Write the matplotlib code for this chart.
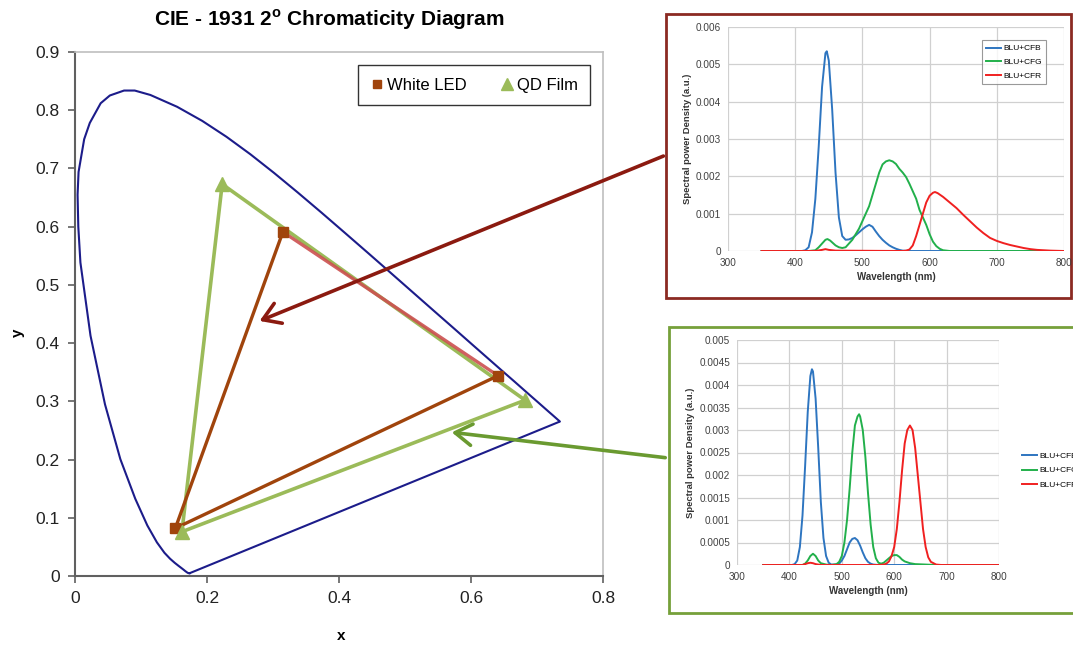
import matplotlib
matplotlib.use("Agg")
import matplotlib.pyplot as plt
from matplotlib.patches import Rectangle, FancyArrowPatch

plt.rcParams['font.family'] = ['Liberation Sans', 'DejaVu Sans']
plt.rcParams['mathtext.fontset'] = 'custom'
plt.rcParams['mathtext.rm'] = 'Liberation Sans:bold'
plt.rcParams['mathtext.bf'] = 'Liberation Sans:bold'

# ---- CIE 1931 spectral locus (380..700 nm), closed by the purple line
locus_x = [0.1741, 0.1740, 0.1738, 0.1736, 0.1733, 0.1730, 0.1726, 0.1721, 0.1714, 0.1703,
           0.1689, 0.1669, 0.1644, 0.1611, 0.1566, 0.1510, 0.1440, 0.1355, 0.1241, 0.1096,
           0.0913, 0.0687, 0.0454, 0.0235, 0.0082, 0.0050, 0.0039, 0.0054, 0.0139, 0.0224,
           0.0389, 0.0528, 0.0743, 0.0905, 0.1142,
           0.1547, 0.1929, 0.2296, 0.2658, 0.3016, 0.3373, 0.3731, 0.4087, 0.4441, 0.4788,
           0.5125, 0.5448, 0.5752, 0.6029, 0.6270, 0.6482, 0.6658, 0.6801, 0.6915, 0.7006,
           0.7079, 0.7140, 0.7190, 0.7230, 0.7260, 0.7283, 0.7300, 0.7311, 0.7320, 0.7334,
           0.7347, 0.1741]
locus_y = [0.0050, 0.0050, 0.0049, 0.0049, 0.0048, 0.0048, 0.0048, 0.0048, 0.0051, 0.0058,
           0.0069, 0.0086, 0.0109, 0.0138, 0.0177, 0.0227, 0.0297, 0.0399, 0.0578, 0.0868,
           0.1327, 0.2007, 0.2950, 0.4127, 0.5384, 0.6000, 0.6548, 0.6940, 0.7502, 0.7781,
           0.8120, 0.8253, 0.8338, 0.8338, 0.8262,
           0.8059, 0.7816, 0.7543, 0.7243, 0.6923, 0.6589, 0.6245, 0.5896, 0.5547, 0.5202,
           0.4866, 0.4544, 0.4242, 0.3965, 0.3725, 0.3514, 0.3340, 0.3197, 0.3083, 0.2993,
           0.2920, 0.2859, 0.2809, 0.2770, 0.2740, 0.2717, 0.2700, 0.2689, 0.2680, 0.2666,
           0.2653, 0.0050]

# ---- gamut triangles (R, G, B vertices)
led_x = [0.641, 0.315, 0.152]
led_y = [0.344, 0.591, 0.082]
qd_x = [0.682, 0.223, 0.162]
qd_y = [0.302, 0.673, 0.076]

# ---- top inset: white LED backlight through colour filters
wl_b1 = [350, 400, 410, 415, 420, 425, 430, 435, 440, 445, 447, 450, 455, 460, 465, 470, 475,
         480, 485, 490, 495, 500, 505, 510, 515, 520, 525, 530, 535, 540, 545, 550, 555, 560,
         570, 800]
sp_b1 = [0, 0, 0, 0.00002, 0.0001, 0.0005, 0.0014, 0.0028, 0.0044, 0.0053, 0.00535, 0.0051,
         0.0038, 0.0021, 0.0009, 0.0004, 0.0003, 0.00031, 0.00035, 0.00042, 0.0005, 0.00058,
         0.00065, 0.0007, 0.00065, 0.00052, 0.0004, 0.0003, 0.00022, 0.00015, 0.0001, 0.00006,
         0.00003, 0.00001, 0, 0]
wl_g1 = [350, 420, 430, 435, 440, 445, 448, 452, 460, 465, 470, 475, 480, 485, 490, 495, 500,
         505, 510, 515, 520, 525, 530, 535, 540, 545, 550, 555, 560, 565, 570, 575, 580, 585,
         590, 595, 600, 605, 610, 615, 620, 630, 800]
sp_g1 = [0, 0, 0.00002, 0.0001, 0.0002, 0.0003, 0.00032, 0.00028, 0.00015, 0.0001, 0.00008,
         0.0001, 0.0002, 0.0003, 0.00045, 0.0006, 0.0008, 0.001, 0.0012, 0.0015, 0.0018, 0.0021,
         0.00232, 0.0024, 0.00243, 0.0024, 0.00233, 0.0022, 0.0021, 0.00198, 0.0018, 0.0016,
         0.0014, 0.0011, 0.0009, 0.0007, 0.00045, 0.00025, 0.00013, 0.00006, 0.00002, 0, 0]
wl_r1 = [350, 430, 440, 445, 450, 460, 560, 565, 570, 575, 580, 585, 590, 595, 600, 605, 608,
         612, 620, 630, 640, 650, 660, 670, 680, 690, 700, 710, 720, 730, 740, 750, 760, 770,
         780, 800]
sp_r1 = [0, 0, 0.00003, 0.00005, 0.00003, 0.00001, 0, 0.00001, 0.00004, 0.00015, 0.0004,
         0.0007, 0.001, 0.0013, 0.00148, 0.00156, 0.00158, 0.00155, 0.00145, 0.0013, 0.00115,
         0.00097, 0.0008, 0.00063, 0.00048, 0.00035, 0.00027, 0.00021, 0.00016, 0.00012,
         0.00008, 0.00005, 0.00003, 0.00002, 0.00001, 0]

# ---- bottom inset: QD film backlight through colour filters
wl_b2 = [350, 405, 410, 415, 420, 425, 430, 435, 440, 443, 445, 450, 455, 460, 465, 470, 475,
         480, 490, 495, 500, 505, 510, 515, 520, 525, 530, 535, 540, 545, 550, 555, 560, 570, 800]
sp_b2 = [0, 0, 0.00002, 0.0001, 0.0004, 0.0011, 0.0022, 0.0034, 0.0042, 0.00435, 0.0043,
         0.0037, 0.0026, 0.0014, 0.0006, 0.0002, 0.00005, 0.00001, 0.00001, 0.00003, 0.0001,
         0.0002, 0.00035, 0.0005, 0.00058, 0.0006, 0.00055, 0.00043, 0.00028, 0.00015, 0.00007,
         0.00003, 0.00001, 0, 0]
wl_g2 = [350, 425, 430, 435, 440, 445, 450, 455, 460, 470, 480, 490, 495, 500, 505, 510, 515,
         520, 525, 530, 533, 535, 540, 545, 550, 555, 560, 565, 570, 575, 580, 585, 590, 595,
         600, 605, 610, 615, 620, 630, 640, 660, 680, 800]
sp_g2 = [0, 0, 0.00003, 0.0001, 0.0002, 0.00025, 0.0002, 0.0001, 0.00004, 0.00001, 0, 0.00002,
         0.00007, 0.0002, 0.0005, 0.001, 0.0017, 0.0025, 0.0031, 0.0033, 0.00335, 0.0033, 0.003,
         0.0024, 0.0016, 0.0009, 0.0004, 0.00015, 0.00005, 0.00003, 0.00005, 0.0001, 0.00015,
         0.0002, 0.00022, 0.00022, 0.00018, 0.00012, 0.00008, 0.00004, 0.00002, 0.00001, 0, 0]
wl_r2 = [350, 425, 430, 435, 440, 445, 450, 460, 570, 580, 585, 590, 595, 600, 605, 610, 615,
         620, 625, 630, 635, 640, 645, 650, 655, 660, 665, 670, 680, 690, 800]
sp_r2 = [0, 0, 0.00002, 0.00004, 0.00005, 0.00004, 0.00002, 0, 0, 0.00001, 0.00003, 0.00008,
         0.0002, 0.0004, 0.0008, 0.0014, 0.0021, 0.0027, 0.003, 0.0031, 0.003, 0.0026, 0.002,
         0.0014, 0.0008, 0.0004, 0.00017, 0.00007, 0.00001, 0, 0]

series_names = ['BLU+CFB', 'BLU+CFG', 'BLU+CFR']
spec_colors = ['#2e75c0', '#22b04b', '#f02020']

W, H = 1073, 646
fig = plt.figure(figsize=(W / 100, H / 100), dpi=100)


def fbox(l, t, r, b):
    # pixel box -> figure fraction [left, bottom, width, height]
    return [l / W, 1 - b / H, (r - l) / W, (b - t) / H]


# ================= main CIE chart =================
ax = fig.add_axes(fbox(75, 52, 603, 576))
led_c = '#a0440c'
qd_c = '#9bbb59'

ax.plot(locus_x, locus_y, color='#1c1c8a', lw=1.5, zorder=2)

ax.plot([qd_x[2], qd_x[1], qd_x[0], qd_x[2]], [qd_y[2], qd_y[1], qd_y[0], qd_y[2]],
        color=qd_c, lw=2.6, zorder=3)
ax.plot([led_x[2], led_x[1]], [led_y[2], led_y[1]], color=led_c, lw=2.4, zorder=4)
ax.plot([led_x[0], led_x[2]], [led_y[0], led_y[2]], color=led_c, lw=2.4, zorder=4)
ax.plot([led_x[1], led_x[0]], [led_y[1], led_y[0]], color='#cc5050', lw=2.4, alpha=0.9, zorder=4)
ax.plot(led_x, led_y, ls='none', marker='s', ms=7, color=led_c, zorder=5, label='White LED')
ax.plot(qd_x, qd_y, ls='none', marker='^', ms=10, color=qd_c, zorder=6, label='QD Film')

ax.set_xlim(0, 0.8)
ax.set_ylim(0, 0.9)
ax.set_xticks([0, 0.2, 0.4, 0.6, 0.8])
ax.set_xticklabels(['0', '0.2', '0.4', '0.6', '0.8'])
ax.set_yticks([0, 0.1, 0.2, 0.3, 0.4, 0.5, 0.6, 0.7, 0.8, 0.9])
ax.set_yticklabels(['0', '0.1', '0.2', '0.3', '0.4', '0.5', '0.6', '0.7', '0.8', '0.9'])
ax.tick_params(labelsize=12.5, direction='out', length=5, width=1.2, color='#606060',
               labelcolor='#222222', pad=6)
for s in ['left', 'bottom']:
    ax.spines[s].set_color('#606060')
    ax.spines[s].set_linewidth(1.5)
for s in ['top', 'right']:
    ax.spines[s].set_color('#bfbfbf')
    ax.spines[s].set_linewidth(1.2)

leg = ax.legend(loc='upper left', bbox_to_anchor=(0.536, 0.975), ncol=2, fontsize=12,
                frameon=True, fancybox=False, edgecolor='black', handlelength=0.8,
                handletextpad=0.2, columnspacing=2.0, borderpad=0.75, markerscale=0.8,
                borderaxespad=0)
leg.get_frame().set_linewidth(1.0)

fig.text(329 / W, 1 - 20 / H, r'CIE - 1931 2$^{\mathrm{o}}$ Chromaticity Diagram',
         ha='center', va='center', fontsize=15, fontweight='bold')
fig.text(341 / W, 1 - 636 / H, 'x', ha='center', va='center', fontsize=11, fontweight='bold')
fig.text(18 / W, 1 - 333 / H, 'y', ha='center', va='center', fontsize=11, fontweight='bold',
         rotation=90)

# ================= inset frames =================
fig.patches.append(Rectangle((666 / W, 1 - 298 / H), (1071 - 666) / W, (298 - 14) / H,
                             transform=fig.transFigure, facecolor='white',
                             edgecolor='#8b2a22', lw=2, zorder=-1))
fig.patches.append(Rectangle((669 / W, 1 - 613 / H), (1090 - 669) / W, (613 - 327) / H,
                             transform=fig.transFigure, facecolor='white',
                             edgecolor='#76a03a', lw=2, zorder=-1))


def style_inset(a, ymax, ystep, yticks_lbl):
    a.set_xlim(300, 800)
    a.set_ylim(0, ymax)
    a.set_xticks([300, 400, 500, 600, 700, 800])
    a.set_yticks([i * ystep for i in range(len(yticks_lbl))])
    a.set_yticklabels(yticks_lbl)
    a.grid(True, color='#d0d0d0', lw=0.9)
    a.set_axisbelow(True)
    for s in a.spines.values():
        s.set_visible(False)
    a.tick_params(length=0, labelsize=7.2, labelcolor='#404040', pad=5)
    a.set_xlabel('Wavelength (nm)', fontsize=7, fontweight='bold', color='#333333', labelpad=3)
    a.set_ylabel('Spectral power Density (a.u.)', fontsize=6.8, fontweight='bold',
                 color='#333333', labelpad=3)
    a.patch.set_alpha(0)


ax1 = fig.add_axes(fbox(728, 27, 1064, 251))
ax1.plot(wl_b1, sp_b1, color=spec_colors[0], lw=1.4, label=series_names[0])
ax1.plot(wl_g1, sp_g1, color=spec_colors[1], lw=1.4, label=series_names[1])
ax1.plot(wl_r1, sp_r1, color=spec_colors[2], lw=1.4, label=series_names[2])
style_inset(ax1, 0.006, 0.001, ['0', '0.001', '0.002', '0.003', '0.004', '0.005', '0.006'])
l1 = ax1.legend(loc='upper left', bbox_to_anchor=(0.755, 0.94), fontsize=6, frameon=True,
                fancybox=False, edgecolor='#808080', handlelength=1.8, handletextpad=0.3,
                labelspacing=0.7, borderpad=0.5, borderaxespad=0)
l1.get_frame().set_linewidth(0.8)

ax2 = fig.add_axes(fbox(737, 340, 999, 565))
ax2.plot(wl_b2, sp_b2, color=spec_colors[0], lw=1.4, label=series_names[0])
ax2.plot(wl_g2, sp_g2, color=spec_colors[1], lw=1.4, label=series_names[1])
ax2.plot(wl_r2, sp_r2, color=spec_colors[2], lw=1.4, label=series_names[2])
style_inset(ax2, 0.005, 0.0005, ['0', '0.0005', '0.001', '0.0015', '0.002', '0.0025',
                                 '0.003', '0.0035', '0.004', '0.0045', '0.005'])
ax2.legend(loc='center left', bbox_to_anchor=(1.06, 0.42), fontsize=6, frameon=False,
           handlelength=1.8, handletextpad=0.3, labelspacing=0.8)

# ================= arrows =================
fig.patches.append(FancyArrowPatch((666 / W, 1 - 155 / H), (257 / W, 1 - 322 / H),
                                   transform=fig.transFigure, arrowstyle='->,head_length=0.55,head_width=0.35',
                                   mutation_scale=22, color='#8b1a10', lw=2.6, zorder=10))
fig.patches.append(FancyArrowPatch((668 / W, 1 - 458 / H), (449 / W, 1 - 432 / H),
                                   transform=fig.transFigure, arrowstyle='->,head_length=0.55,head_width=0.35',
                                   mutation_scale=22, color='#6a9a30', lw=2.6, zorder=10))

fig.savefig('out.png', dpi=100)
